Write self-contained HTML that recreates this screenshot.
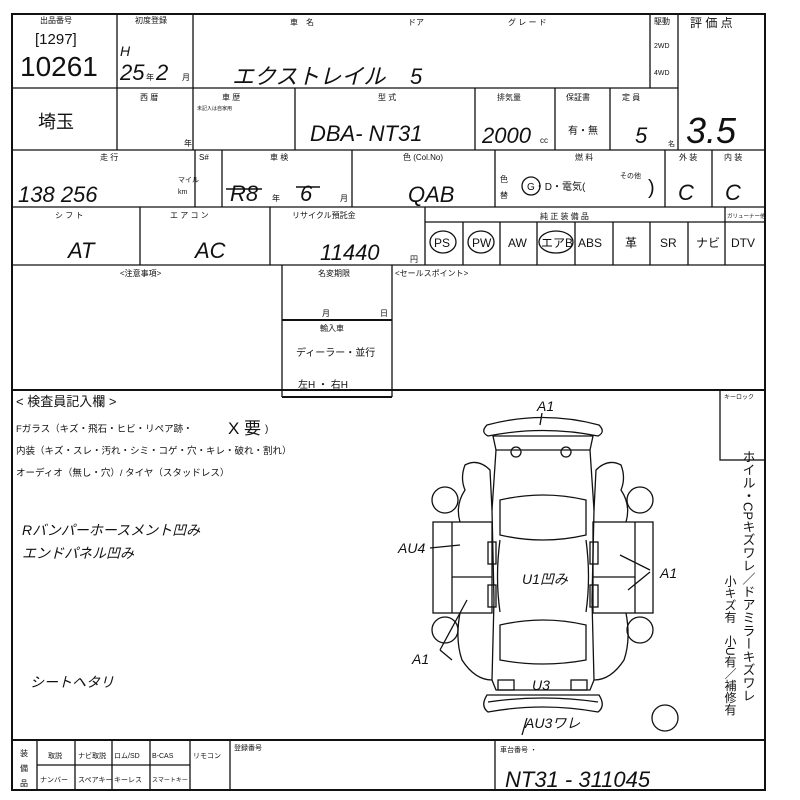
<!DOCTYPE html>
<html><head><meta charset="utf-8">
<style>
html,body{margin:0;padding:0;background:#fff;}
svg{display:block;}
text{font-family:"Liberation Sans","Noto Sans CJK JP",sans-serif;fill:#111;}
.s{font-size:8px;}
.m{font-size:10px;}
.h{font-size:22px;font-style:italic;font-family:"Liberation Sans","Noto Sans CJK JP",sans-serif;}
.w{font-size:14px;font-style:italic;}
</style></head><body>
<svg width="800" height="800" viewBox="0 0 800 800" xmlns="http://www.w3.org/2000/svg">
<g stroke="#111" stroke-width="1.3" fill="none">
<rect x="12" y="14" width="753" height="776" stroke-width="2"/>
<!-- row lines -->
<line x1="12" y1="88" x2="678" y2="88"/>
<line x1="12" y1="150" x2="765" y2="150"/>
<line x1="12" y1="207" x2="765" y2="207"/>
<line x1="12" y1="265" x2="765" y2="265"/>
<line x1="12" y1="390" x2="765" y2="390" stroke-width="2"/>
<line x1="12" y1="740" x2="765" y2="740" stroke-width="2"/>
<!-- row1 cols -->
<line x1="117" y1="14" x2="117" y2="150"/>
<line x1="193" y1="14" x2="193" y2="150"/>
<line x1="650" y1="14" x2="650" y2="88"/>
<line x1="678" y1="14" x2="678" y2="150"/>
<!-- row2 cols -->
<line x1="295" y1="88" x2="295" y2="150"/>
<line x1="475" y1="88" x2="475" y2="150"/>
<line x1="555" y1="88" x2="555" y2="150"/>
<line x1="610" y1="88" x2="610" y2="150"/>
<!-- row3 cols -->
<line x1="195" y1="150" x2="195" y2="207"/>
<line x1="222" y1="150" x2="222" y2="207"/>
<line x1="352" y1="150" x2="352" y2="207"/>
<line x1="495" y1="150" x2="495" y2="207"/>
<line x1="665" y1="150" x2="665" y2="207"/>
<line x1="712" y1="150" x2="712" y2="207"/>
<!-- row4 -->
<line x1="140" y1="207" x2="140" y2="265"/>
<line x1="270" y1="207" x2="270" y2="265"/>
<line x1="425" y1="207" x2="425" y2="265"/>
<line x1="425" y1="222" x2="765" y2="222"/>
<line x1="463" y1="222" x2="463" y2="265"/>
<line x1="500" y1="222" x2="500" y2="265"/>
<line x1="537" y1="222" x2="537" y2="265"/>
<line x1="575" y1="222" x2="575" y2="265"/>
<line x1="613" y1="222" x2="613" y2="265"/>
<line x1="650" y1="222" x2="650" y2="265"/>
<line x1="688" y1="222" x2="688" y2="265"/>
<line x1="725" y1="207" x2="725" y2="265"/>
<!-- row5 -->
<line x1="282" y1="265" x2="282" y2="397"/>
<line x1="392" y1="265" x2="392" y2="397"/>
<line x1="282" y1="397" x2="392" y2="397" stroke-width="2"/>
<line x1="282" y1="320" x2="392" y2="320" stroke-width="2"/>
<!-- key lock -->
<rect x="720" y="390" width="45" height="70"/>
<!-- bottom -->
<line x1="37" y1="740" x2="37" y2="790"/>
<line x1="75" y1="740" x2="75" y2="790"/>
<line x1="112" y1="740" x2="112" y2="790"/>
<line x1="150" y1="740" x2="150" y2="790"/>
<line x1="190" y1="740" x2="190" y2="790"/>
<line x1="230" y1="740" x2="230" y2="790"/>
<line x1="495" y1="740" x2="495" y2="790"/>
<line x1="37" y1="765" x2="190" y2="765"/>
<!-- circles on equipment -->
<ellipse cx="443" cy="242" rx="13" ry="11"/>
<ellipse cx="481" cy="242" rx="13" ry="11"/>
<ellipse cx="556" cy="242" rx="17" ry="11"/>
<circle cx="531" cy="186" r="9"/>
</g>

<!-- Row1 text -->
<text x="40" y="23" class="s">出品番号</text>
<text x="35" y="44" font-size="15">[1297]</text>
<text x="20" y="76" font-size="28">10261</text>
<text x="135" y="23" class="s">初度登録</text>
<text x="120" y="56" class="w">H</text>
<text x="120" y="80" class="h">25</text><text x="146" y="80" class="s">年</text><text x="156" y="80" class="h">2</text><text x="182" y="80" class="s">月</text>
<text x="290" y="25" class="s">車　名</text>
<text x="408" y="25" class="s">ドア</text>
<text x="508" y="25" class="s">グ レ ー ド</text>
<text x="654" y="24" class="s">駆動</text>
<text x="654" y="48" font-size="7">2WD</text>
<text x="654" y="75" font-size="7">4WD</text>
<text x="690" y="27" font-size="12">評 価 点</text>
<text x="232" y="84" class="h" font-size="24">エクストレイル</text>
<text x="410" y="84" class="h">5</text>
<!-- Row2 -->
<text x="140" y="100" class="s">西 暦</text>
<text x="222" y="100" class="s">車 歴</text>
<text x="197" y="110" font-size="5">未記入は自家用</text>
<text x="184" y="146" class="s">年</text>
<text x="378" y="100" class="s">型 式</text>
<text x="497" y="100" class="s">排気量</text>
<text x="566" y="100" class="s">保証書</text>
<text x="622" y="100" class="s">定 員</text>
<text x="38" y="128" font-size="18">埼玉</text>
<text x="310" y="141" class="h">DBA- NT31</text>
<text x="482" y="143" class="h">2000</text><text x="540" y="143" class="s">cc</text>
<text x="568" y="134" class="m">有・無</text>
<text x="635" y="143" class="h">5</text><text x="668" y="146" font-size="7">名</text>
<text x="686" y="143" font-size="36" font-style="italic">3.5</text>
<!-- Row3 -->
<text x="100" y="160" class="s">走 行</text>
<text x="199" y="160" class="s">S#</text>
<text x="270" y="160" class="s">車 検</text>
<text x="403" y="160" class="s">色 (Col.No)</text>
<text x="575" y="160" class="s">燃 料</text>
<text x="679" y="160" class="s">外 装</text>
<text x="724" y="160" class="s">内 装</text>
<text x="18" y="202" class="h" font-size="28">138 256</text>
<text x="178" y="182" font-size="7">マイル</text>
<text x="178" y="194" font-size="7">km</text>
<text x="230" y="201" class="h">R8</text><text x="272" y="201" class="s">年</text><text x="300" y="201" class="h">6</text><text x="340" y="201" class="s">月</text>
<line x1="226" y1="189" x2="262" y2="189" stroke="#111" stroke-width="1.5"/>
<line x1="296" y1="187" x2="320" y2="187" stroke="#111" stroke-width="1.5"/>
<text x="408" y="202" class="h">QAB</text>
<text x="500" y="182" class="s">色</text><text x="500" y="198" class="s">替</text>
<text x="527" y="190" class="m">G・D・電気(</text>
<text x="620" y="178" font-size="7">その他</text>
<text x="648" y="194" font-size="20">)</text>
<text x="678" y="200" class="h" font-size="26">C</text>
<text x="725" y="200" class="h" font-size="24">C</text>
<!-- Row4 -->
<text x="55" y="218" class="s">シ フ ト</text>
<text x="170" y="218" class="s">エ ア コ ン</text>
<text x="292" y="218" class="s">リサイクル預託金</text>
<text x="540" y="219" class="s">純 正 装 備 品</text>
<text x="727" y="218" font-size="5.5">ガリューナー他</text>
<text x="68" y="258" class="h" font-size="24">AT</text>
<text x="195" y="258" class="h" font-size="24">AC</text>
<text x="320" y="260" class="h">11440</text><text x="410" y="262" class="s">円</text>
<text x="434" y="247" font-size="12">PS</text>
<text x="472" y="247" font-size="12">PW</text>
<text x="508" y="247" font-size="12">AW</text>
<text x="541" y="247" font-size="12">エアB</text>
<text x="578" y="247" font-size="12">ABS</text>
<text x="625" y="247" font-size="12">革</text>
<text x="660" y="247" font-size="12">SR</text>
<text x="696" y="247" font-size="12">ナビ</text>
<text x="731" y="247" font-size="12">DTV</text>
<!-- Row5 -->
<text x="120" y="276" class="s">&lt;注意事項&gt;</text>
<text x="318" y="276" class="s">名変期限</text>
<text x="395" y="276" class="s">&lt;セールスポイント&gt;</text>
<text x="322" y="316" class="s">月</text><text x="380" y="316" class="s">日</text>
<text x="320" y="331" class="s">輸入車</text>
<text x="296" y="356" class="m">ディーラー・並行</text>
<text x="298" y="388" class="m">左H ・ 右H</text>
<!-- inspector -->
<text x="16" y="406" font-size="13">&lt; 検査員記入欄 &gt;</text>
<text x="16" y="432" font-size="9.5">Fガラス（キズ・飛石・ヒビ・リペア跡・</text>
<text x="228" y="434" font-size="17">X 要</text><text x="265" y="432" font-size="10">)</text>
<text x="16" y="454" font-size="9.5">内装（キズ・スレ・汚れ・シミ・コゲ・穴・キレ・破れ・割れ）</text>
<text x="16" y="476" font-size="9.5">オーディオ（無し・穴）/ タイヤ（スタッドレス）</text>
<text x="22" y="535" class="w" font-size="15">Rバンパーホースメント凹み</text>
<text x="22" y="558" class="w" font-size="15">エンドパネル凹み</text>
<text x="30" y="687" class="w" font-size="12">シートヘタリ</text>
<text x="724" y="399" font-size="6">キーロック</text>
<!-- vertical text -->
<text x="748" y="450" font-size="13" style="writing-mode:vertical-rl">ホイル・CPキズワレ／ドアミラーキズワレ</text>
<text x="730" y="575" font-size="12" style="writing-mode:vertical-rl">小キズ有　小U有／補修有</text>
<!-- car -->
<g stroke="#111" stroke-width="1.3" fill="none">
<path d="M487 425 Q543 410 599 425 Q606 432 598 436 Q543 425 488 436 Q480 432 487 425Z"/>
<path d="M493 436 L593 436 L590 450 L496 450Z"/>
<circle cx="516" cy="452" r="5"/><circle cx="566" cy="452" r="5"/>
<path d="M496 450 L492 510 L494 600 L492 680 L496 690 L590 690 L594 680 L592 600 L594 510 L590 450"/>
<path d="M500 500 Q543 490 586 500 L586 535 Q543 545 500 535Z"/>
<path d="M500 625 Q543 615 586 625 L586 660 Q543 668 500 660Z"/>
<path d="M500 540 Q495 577 500 612 M586 540 Q591 577 586 612"/>
<rect x="488" y="542" width="8" height="22"/><rect x="488" y="585" width="8" height="22"/>
<rect x="590" y="542" width="8" height="22"/><rect x="590" y="585" width="8" height="22"/>
<rect x="498" y="680" width="16" height="10"/><rect x="571" y="680" width="16" height="10"/>
<path d="M487 695 L599 695 Q606 706 598 712 Q543 702 488 712 Q480 706 487 695Z"/>
<path d="M488 702 Q543 694 598 702"/>
<!-- left side -->
<rect x="433" y="522" width="59" height="91"/>
<line x1="452" y1="522" x2="452" y2="613"/>
<line x1="452" y1="577" x2="492" y2="577"/>
<path d="M460 522 Q455 505 465 490 Q460 478 465 465 Q478 458 490 470 L492 510"/>
<path d="M460 613 Q455 640 462 660 Q475 680 492 680"/>
<circle cx="445" cy="500" r="13"/><circle cx="445" cy="630" r="13"/>
<!-- right side -->
<rect x="593" y="522" width="60" height="91"/>
<line x1="635" y1="522" x2="635" y2="613"/>
<line x1="593" y1="577" x2="635" y2="577"/>
<path d="M626 522 Q631 505 621 490 Q626 478 621 465 Q608 458 596 470 L594 510"/>
<path d="M626 613 Q631 640 624 660 Q611 680 594 680"/>
<circle cx="640" cy="500" r="13"/><circle cx="640" cy="630" r="13"/>
<circle cx="665" cy="718" r="13"/>
<!-- annotation lines -->
<line x1="542" y1="413" x2="540" y2="425"/>
<line x1="430" y1="548" x2="460" y2="545"/>
<line x1="620" y1="555" x2="650" y2="570"/>
<line x1="628" y1="590" x2="650" y2="572"/>
<line x1="467" y1="600" x2="440" y2="650"/>
<line x1="440" y1="650" x2="452" y2="660"/>
<line x1="527" y1="718" x2="522" y2="735"/>
</g>
<text x="537" y="411" class="w">A1</text>
<text x="398" y="553" class="w" font-size="12">AU4</text>
<text x="660" y="578" class="w">A1</text>
<text x="412" y="664" class="w">A1</text>
<text x="522" y="584" class="w" font-size="12">U1凹み</text>
<text x="532" y="690" class="w" font-size="13">U3</text>
<text x="525" y="728" class="w" font-size="11">AU3ワレ</text>
<!-- bottom text -->
<text x="20" y="756" class="s">装</text><text x="20" y="771" class="s">備</text><text x="20" y="786" class="s">品</text>
<text x="48" y="758" font-size="7">取説</text>
<text x="78" y="758" font-size="7">ナビ取説</text>
<text x="114" y="758" font-size="7">ロム/SD</text>
<text x="152" y="758" font-size="7">B-CAS</text>
<text x="193" y="758" font-size="7">リモコン</text>
<text x="40" y="782" font-size="7">ナンバー</text>
<text x="78" y="782" font-size="7">スペアキー</text>
<text x="114" y="782" font-size="7">キーレス</text>
<text x="152" y="782" font-size="6">スマートキー</text>
<text x="234" y="750" font-size="7">登録番号</text>
<text x="500" y="752" font-size="7">車台番号 ・</text>
<text x="505" y="787" class="h">NT31 - 311045</text>
</svg>
</body></html>
